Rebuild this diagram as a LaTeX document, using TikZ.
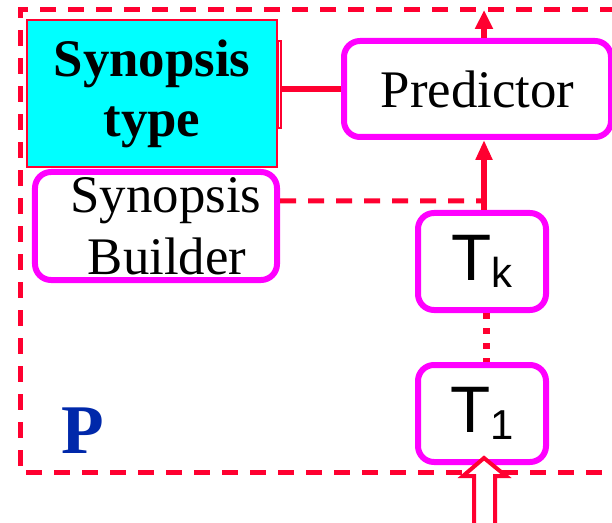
\documentclass[tikz,border=0pt]{standalone}
\usepackage{fontspec}
\setmainfont{Liberation Serif}
\setsansfont{Liberation Sans}
\usetikzlibrary{arrows.meta}

\definecolor{linered}{RGB}{255,0,48}
\definecolor{boxmag}{RGB}{255,0,255}
\definecolor{typecyan}{RGB}{0,255,255}
\definecolor{pblue}{RGB}{0,40,170}

\tikzset{
    module/.style={draw=boxmag, line width=6bp, rounded corners=16bp, fill=white,
        inner sep=0pt, align=center, font=\fontsize{53}{62}\selectfont},
    stage/.style={module, minimum width=128bp, minimum height=97bp,
        font=\sffamily\fontsize{66}{70}\selectfont},
    flow/.style={linered, line width=6bp},
    frame/.style={linered, line width=5bp, dash pattern=on 16bp off 12bp}
}

\newcommand{\stagelabel}[1]{T\raisebox{-7bp}{\fontsize{42}{42}\selectfont #1}}

\begin{document}
\begin{tikzpicture}[x=1bp, y=-1bp]
    \useasboundingbox (0,0) rectangle (612,523);

    % Marco discontinuo abierto por la derecha.
    \draw[frame] (616,10) -- (20,10) -- (20,472) -- (616,472);
    \coordinate (salida) at (484,10);

    % Cajas.
    \node[draw=linered, line width=2.5bp, fill=typecyan, minimum width=250bp,
        minimum height=147bp, inner sep=0pt, align=center,
        font=\bfseries\fontsize{53}{60}\selectfont] (tipo) at (152,93.5) {Synopsis\\type};
    \node[module, minimum width=242bp, minimum height=108bp] (builder) at (156,226)
        {\hspace*{20bp}Synopsis\\\hspace*{22bp}Builder};
    \node[module, minimum width=267bp, minimum height=96bp] (pred) at (477.5,89) {Predictor};
    \node[stage] (tk) at (482,261.5) {\stagelabel{k}};
    \node[stage] (t1) at (482,413.5) {\stagelabel{1}};
    \node[text=pblue, font=\bfseries\fontsize{70}{70}\selectfont] (p) at (83,431) {P};

    % Conexiones.
    \draw[linered, line width=2bp] (277.5,41) rectangle (280.5,128);
    \draw[flow] (280.5,89) -- (pred.west);
    \draw[frame] ([yshift=25bp]builder.east) -- (salida |- 0,201);
    \draw[flow, -{Triangle[length=19bp, width=17bp]}] (salida |- pred.north) -- (salida);
    \draw[flow, -{Triangle[length=20bp, width=16bp]}] (salida |- tk.north) -- (salida |- pred.south);
    \draw[linered, line width=7bp, dash pattern=on 6bp off 9bp] ([xshift=4bp]tk.south) -- ([xshift=4bp]t1.north);

    % Flecha hueca de entrada.
    \draw[linered, line width=4bp, fill=white, line join=miter]
        ([xshift=2bp, yshift=7bp]t1.south) -- ++(22,18) -- ++(-11,0) -- ++(0,60)
        -- ++(-21,0) -- ++(0,-60) -- ++(-11,0) -- cycle;
\end{tikzpicture}
\end{document}
